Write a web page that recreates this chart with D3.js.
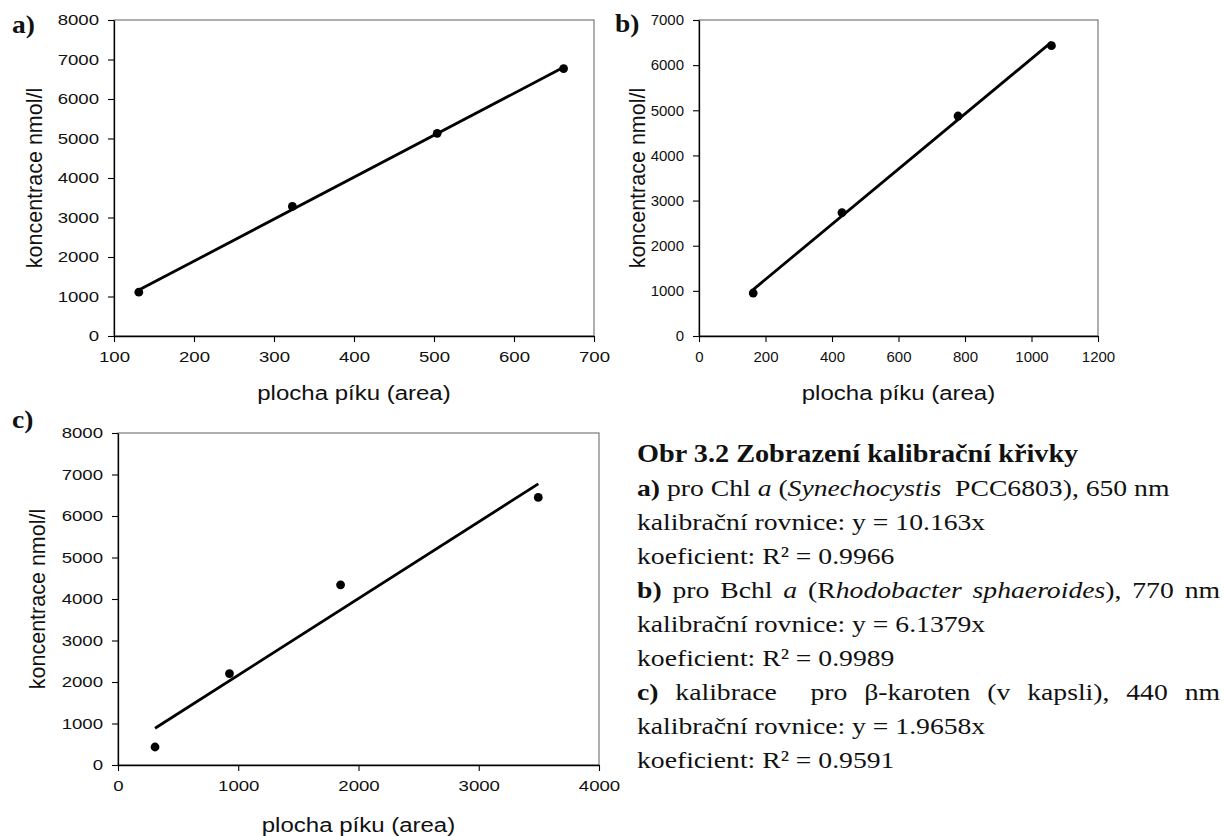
<!DOCTYPE html>
<html>
<head>
<meta charset="utf-8">
<script src="https://cdn.jsdelivr.net/npm/d3@7"></script>
<style>
  html, body { margin: 0; padding: 0; background: #fff; }
  svg { display: block; }
  .tick text { font-family: "Liberation Sans", Arial, sans-serif; }
</style>
</head>
<body>
<svg id="fig" width="1224" height="836"></svg>
<script>
// Calibration data: peak area (x) vs. concentration in nmol/l (y)
const areaA = [131, 323, 504, 662];
const concA = [1110, 3280, 5130, 6770];
const areaB = [163, 430, 779, 1060];
const concB = [952, 2732, 4873, 6431];
const areaC = [308, 927, 1851, 3495];
const concC = [434, 2202, 4341, 6447];

// Axis tick values
const xTicksA = [100, 200, 300, 400, 500, 600, 700];
const yTicksA = [0, 1000, 2000, 3000, 4000, 5000, 6000, 7000, 8000];
const xTicksB = [0, 200, 400, 600, 800, 1000, 1200];
const yTicksB = [0, 1000, 2000, 3000, 4000, 5000, 6000, 7000];
const xTicksC = [0, 1000, 2000, 3000, 4000];
const yTicksC = [0, 1000, 2000, 3000, 4000, 5000, 6000, 7000, 8000];

const panelLabels = ["a)", "b)", "c)"];
const xTitle = "plocha píku (area)";
const yTitle = "koncentrace nmol/l";

// Caption lines, each a list of [text, style] runs
const captionLines = [
  [["Obr 3.2 Zobrazení kalibrační křivky", "b"]],
  [["a)", "b"], [" pro Chl ", "r"], ["a", "i"], [" (", "r"], ["Synechocystis", "i"], ["  PCC6803), 650 nm", "r"]],
  [["kalibrační rovnice: y = 10.163x", "r"]],
  [["koeficient: R² = 0.9966", "r"]],
  [["b)", "b"], [" pro Bchl ", "r"], ["a", "i"], [" (R", "r"], ["hodobacter sphaeroides", "i"], ["), 770 nm", "r"]],
  [["kalibrační rovnice: y = 6.1379x", "r"]],
  [["koeficient: R² = 0.9989", "r"]],
  [["c)", "b"], [" kalibrace  pro β-karoten (v kapsli), 440 nm", "r"]],
  [["kalibrační rovnice: y = 1.9658x", "r"]],
  [["koeficient: R² = 0.9591", "r"]]
];
const justifiedLines = [4, 7];

const svg = d3.select("#fig");
const SANS = '"Liberation Sans", Arial, sans-serif';
const SERIF = '"Liberation Serif", "Times New Roman", serif';

// widen text horizontally to the figure's aspect
function stretch(sel, k) {
  sel.each(function () {
    const L = this.getComputedTextLength();
    this.setAttribute("textLength", L * k);
    this.setAttribute("lengthAdjust", "spacingAndGlyphs");
  });
}

// ordinary least-squares fit of y on x
function fit(xs, ys) {
  const mx = d3.mean(xs), my = d3.mean(ys);
  let sxy = 0, sxx = 0;
  xs.forEach((x, i) => { sxy += (x - mx) * (ys[i] - my); sxx += (x - mx) * (x - mx); });
  const b = sxy / sxx;
  return { b, a: my - b * mx };
}

function panel(cfg) {
  const { left, top, width, height, xs, ys, xTicks, yTicks, label, labelPos, yTitleX, xTitleY, tickStretch, tickSize } = cfg;
  const g = svg.append("g");
  const x = d3.scaleLinear().domain(d3.extent(xTicks)).range([left, left + width]);
  const y = d3.scaleLinear().domain(d3.extent(yTicks)).range([top + height, top]);

  // plot frame
  g.append("rect")
    .attr("x", left).attr("y", top).attr("width", width).attr("height", height)
    .attr("fill", "none").attr("stroke", "#7a7a7a").attr("stroke-width", 1.2);

  const xa = g.append("g").attr("transform", `translate(0,${top + height})`)
    .call(d3.axisBottom(x).tickValues(xTicks).tickSize(6).tickSizeOuter(0).tickPadding(9).tickFormat(d3.format("d")));
  const ya = g.append("g").attr("transform", `translate(${left},0)`)
    .call(d3.axisLeft(y).tickValues(yTicks).tickSize(6).tickSizeOuter(0).tickPadding(9).tickFormat(d3.format("d")));
  [xa, ya].forEach(a => {
    a.select(".domain").attr("stroke", "#000").attr("stroke-width", 1.3);
    a.selectAll(".tick line").attr("stroke", "#000").attr("stroke-width", 1.1);
    a.selectAll(".tick text").attr("font-size", tickSize).attr("fill", "#111");
    stretch(a.selectAll(".tick text"), tickStretch);
  });

  // regression line over the measured range
  const f = fit(xs, ys);
  const x0 = d3.min(xs), x1 = d3.max(xs);
  g.append("line")
    .attr("x1", x(x0)).attr("y1", y(f.a + f.b * x0))
    .attr("x2", x(x1)).attr("y2", y(f.a + f.b * x1))
    .attr("stroke", "#000").attr("stroke-width", 2.8);

  // measured points
  g.selectAll("circle.pt").data(xs.map((v, i) => [v, ys[i]])).enter()
    .append("circle").attr("class", "pt")
    .attr("cx", d => x(d[0])).attr("cy", d => y(d[1])).attr("r", 4.4).attr("fill", "#000");

  // axis titles
  const xt = g.append("text")
    .attr("x", left + width / 2).attr("y", xTitleY)
    .attr("text-anchor", "middle").attr("font-family", SANS).attr("font-size", 20).attr("fill", "#111")
    .text(xTitle);
  stretch(xt, 1.2);
  g.append("text")
    .attr("transform", `translate(${yTitleX},${top + height / 2}) rotate(-90)`)
    .attr("text-anchor", "middle").attr("dy", "0.35em")
    .attr("font-family", SANS).attr("font-size", 21.5).attr("fill", "#111")
    .text(yTitle);

  // panel letter
  const pl = g.append("text")
    .attr("x", labelPos[0]).attr("y", labelPos[1])
    .attr("font-family", SERIF).attr("font-weight", "bold").attr("font-size", 25).attr("fill", "#111")
    .text(label);
  stretch(pl, 1.1);
}

panel({ left: 114, top: 20, width: 480, height: 316, xs: areaA, ys: concA,
  xTicks: xTicksA, yTicks: yTicksA, label: panelLabels[0], labelPos: [12, 33], yTitleX: 34, xTitleY: 400,
  tickSize: 15.5, tickStretch: 1.2 });
panel({ left: 699, top: 20, width: 399, height: 316, xs: areaB, ys: concB,
  xTicks: xTicksB, yTicks: yTicksB, label: panelLabels[1], labelPos: [615, 32], yTitleX: 637, xTitleY: 400,
  tickSize: 15, tickStretch: 1.0 });
panel({ left: 118, top: 433, width: 481, height: 332, xs: areaC, ys: concC,
  xTicks: xTicksC, yTicks: yTicksC, label: panelLabels[2], labelPos: [12, 428], yTitleX: 37, xTitleY: 832,
  tickSize: 15.5, tickStretch: 1.2 });

// Figure caption
const capX = 637, capRight = 1220, capScale = 1.153, capTop = 462, capStep = 34;
const cap = svg.append("g").attr("transform", `translate(${capX},0) scale(${capScale},1)`);
captionLines.forEach((runs, i) => {
  const t = cap.append("text")
    .attr("x", 0).attr("y", capTop + i * capStep)
    .attr("font-family", SERIF).attr("font-size", 24).attr("fill", "#111")
    .style("white-space", "pre");
  runs.forEach(([s, st]) => {
    t.append("tspan")
      .attr("font-weight", st === "b" ? "bold" : "normal")
      .attr("font-style", st === "i" ? "italic" : "normal")
      .attr("font-size", st === "b" && runs.length === 1 ? 24.5 : null)
      .text(s);
  });
  if (justifiedLines.includes(i)) {
    const target = (capRight - capX) / capScale;
    const L = t.node().getComputedTextLength();
    const spaces = runs.map(r => r[0]).join("").split(" ").length - 1;
    t.attr("word-spacing", (target - L) / spaces);
  }
});
</script>
</body>
</html>
